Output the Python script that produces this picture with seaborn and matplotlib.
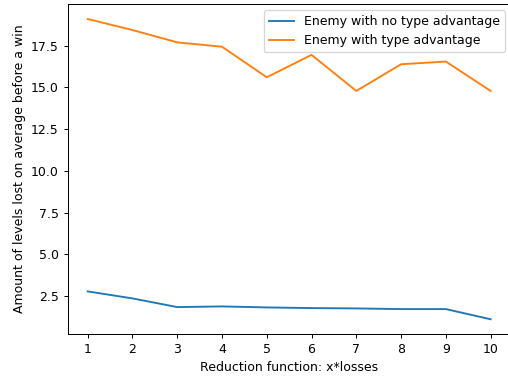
import matplotlib
matplotlib.use("Agg")
import matplotlib.pyplot as plt
import seaborn as sns
import pandas as pd

x_values = [1, 2, 3, 4, 5, 6, 7, 8, 9, 10]
no_advantage = [2.78, 2.36, 1.84, 1.88, 1.82, 1.78, 1.76, 1.72, 1.72, 1.11]
with_advantage = [19.1, 18.44, 17.7, 17.44, 15.61, 16.95, 14.79, 16.39, 16.55, 14.79]
series_names = ["Enemy with no type advantage", "Enemy with type advantage"]

df = pd.concat([
    pd.DataFrame({"x": x_values, "y": no_advantage, "series": series_names[0]}),
    pd.DataFrame({"x": x_values, "y": with_advantage, "series": series_names[1]}),
])

fig, ax = plt.subplots(figsize=(508 / 90, 380 / 90), dpi=90)
fig.subplots_adjust(left=0.1329, right=1.0055, top=0.9895, bottom=0.1203)
sns.lineplot(data=df, x="x", y="y", hue="series", palette=["#1f77b4", "#ff7f0e"], ax=ax)
ax.set_xticks(x_values)
ax.set_xlabel("Reduction function: x*losses")
ax.set_ylabel("Amount of levels lost on average before a win")
ax.legend(loc="upper right")
fig.savefig("out.png", dpi=90)
